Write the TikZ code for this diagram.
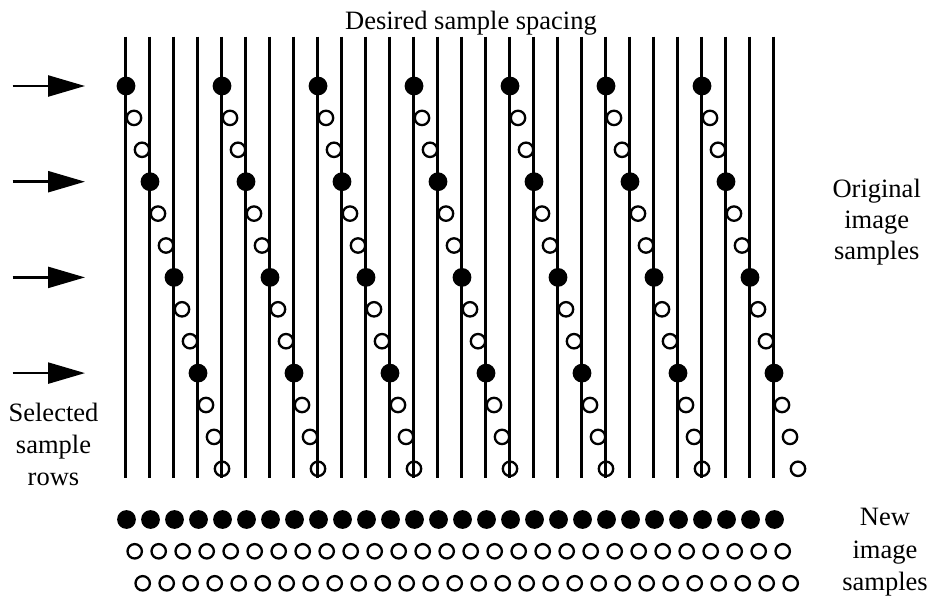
\documentclass[tikz,border=0pt]{standalone}
\usepackage{fontspec}
\setmainfont{Liberation Serif}
\usetikzlibrary{arrows.meta}
\begin{document}
\begin{tikzpicture}[x=1pt,y=-1pt,
  vline/.style={line width=2.4pt},
  fdot/.style={circle,fill=black,inner sep=0pt,minimum size=18.8pt},
  odot/.style={circle,draw=black,line width=2.3pt,inner sep=0pt,minimum size=14.4pt},
  lbl/.style={font=\fontsize{26.5}{32}\selectfont,inner sep=0pt,anchor=base},
  selarrow/.style={line width=2.4pt,-{Triangle[length=37pt,width=21pt]}}]
\useasboundingbox (0,0) rectangle (930,596);
% vertical sample-spacing lines
\foreach \j in {0,...,27}{
  \coordinate (t\j) at ({125.3+24*\j},36.7);
  \coordinate (b\j) at ({125.3+24*\j},478);
  \draw[vline] (t\j) -- (b\j);
}
% original image samples
\foreach \g in {0,...,6}{
  \foreach \k in {0,...,12}{
    \pgfmathtruncatemacro\m{mod(\k,3)}
    \ifnum\k=12 \def\m{1}\fi
    \ifnum\m=0
      \node[fdot] (s-\g-\k) at ({126+96*\g+8*\k},{86+31.9*\k}) {};
    \else
      \node[odot] (s-\g-\k) at ({126+96*\g+8*\k},{86+31.9*\k}) {};
    \fi
  }
}
% new image samples
\foreach \j in {0,...,27}{
  \node[fdot] (n1-\j) at ({126.5+24*\j},519.5) {};
  \node[odot] (n2-\j) at ({134.7+24*\j},551.3) {};
  \node[odot] (n3-\j) at ({142.7+24*\j},583.3) {};
}
% selection arrows
\foreach \r/\y in {1/86,2/181.7,3/277.4,4/373.1}{
  \coordinate (as\r) at (12.7,\y);
  \coordinate (ae\r) at (85,\y);
  \draw[selarrow] (as\r) -- (ae\r);
}
% labels
\node[lbl] (title) at (471,30) {Desired sample spacing};
\node[lbl] (sel1) at (53.5,421.7) {Selected};
\node[lbl] (sel2) at (53.5,453.5) {sample};
\node[lbl] (sel3) at (53.5,485.7) {rows};
\node[lbl] (orig1) at (876.7,197.3) {Original};
\node[lbl] (orig2) at (876.7,228.7) {image};
\node[lbl] (orig3) at (876.7,260) {samples};
\node[lbl] (new1) at (885,525) {New};
\node[lbl] (new2) at (885,558) {image};
\node[lbl] (new3) at (885,590) {samples};
\end{tikzpicture}
\end{document}
